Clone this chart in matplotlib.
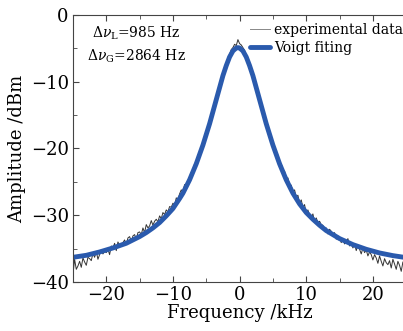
import numpy as np
import matplotlib
matplotlib.use('Agg')
import matplotlib.pyplot as plt

plt.rcParams['font.family'] = ['DejaVu Serif']
plt.rcParams['mathtext.fontset'] = 'dejavuserif'

# experimental spectrum (kHz, dBm)
frekData = np.linspace(-25, 25, 201)
ampData = [
    -38.9, -36.6, -38.1, -37.6, -36.9, -37.8, -36.4, -37.0, -37.5, -36.3,
    -36.5, -36.8, -35.7, -36.3, -35.4, -36.6, -35.9, -35.2, -35.8, -35.4,
    -35.6, -35.1, -35.9, -34.6, -34.9, -34.2, -35.3, -34.0, -34.5, -34.3,
    -34.1, -33.7, -34.4, -33.4, -33.2, -33.9, -33.1, -32.9, -33.6, -32.6,
    -32.5, -32.9, -31.9, -32.6, -31.4, -31.9, -31.6, -30.8, -31.5, -30.9,
    -30.6, -31.0, -30.1, -30.5, -29.6, -29.9, -29.2, -29.5, -28.7, -28.8,
    -28.2, -28.5, -27.4, -27.6, -26.8, -26.2, -26.5, -25.4, -25.6, -24.8,
    -24.3, -23.6, -23.2, -22.3, -22.0, -21.0, -20.6, -19.7, -19.2, -18.3,
    -17.6, -16.8, -16.0, -15.1, -14.2, -13.3, -12.4, -11.5, -10.6, -9.7,
    -8.8, -7.9, -7.3, -6.4, -5.9, -5.2, -4.9, -4.4, -4.6, -3.7,
    -4.3, -4.5, -4.9, -5.3, -6.1, -6.5, -7.4, -8.0, -8.9, -9.7,
    -10.7, -11.5, -12.5, -13.3, -14.4, -15.0, -16.2, -16.7, -17.8, -18.2,
    -19.3, -19.7, -20.7, -21.0, -22.0, -22.3, -23.2, -23.4, -24.5, -24.4,
    -25.4, -25.5, -26.6, -26.2, -27.3, -27.0, -28.2, -27.7, -28.8, -28.4,
    -29.8, -29.2, -30.0, -30.4, -29.8, -31.0, -30.4, -31.1, -30.9, -31.4,
    -31.5, -32.2, -31.9, -32.8, -32.1, -32.4, -33.0, -32.6, -33.6, -33.1,
    -33.4, -34.1, -33.6, -34.3, -34.0, -33.5, -34.6, -34.2, -34.9, -34.3,
    -35.3, -34.5, -35.1, -35.8, -34.9, -35.6, -35.2, -36.1, -35.5, -35.9,
    -36.7, -35.9, -36.4, -37.2, -36.1, -36.9, -37.6, -36.5, -37.1, -37.4,
    -36.8, -37.9, -36.6, -37.3, -38.1, -36.9, -37.5, -38.4, -37.0, -37.7,
    -37.2,
]

# Voigt fit curve
frekFit = [-25, -23, -21, -19, -17, -15, -14, -13, -12, -11, -10, -9, -8.5,
           -8, -7.5, -7, -6.5, -6, -5.5, -5, -4.5, -4, -3.5, -3, -2.5, -2,
           -1.5, -1, -0.5, -0.25, 0, 0.5, 1, 1.5, 2, 2.5, 3, 3.5, 4, 4.5, 5,
           5.5, 6, 6.5, 7, 7.5, 8, 8.5, 9, 10, 11, 12, 13, 14, 15, 17, 19,
           21, 23, 25]
ampFit = [-36.3, -36.0, -35.5, -34.9, -34.2, -33.2, -32.6, -31.9, -31.1,
          -30.1, -29.0, -27.5, -26.7, -25.7, -24.7, -23.5, -22.3, -20.9,
          -19.5, -17.9, -16.3, -14.5, -12.7, -10.9, -9.1, -7.6, -6.3, -5.4,
          -4.95, -4.9, -4.95, -5.4, -6.3, -7.6, -9.1, -10.9, -12.7, -14.5,
          -16.3, -17.9, -19.5, -20.9, -22.3, -23.5, -24.7, -25.7, -26.7,
          -27.5, -28.3, -29.6, -30.6, -31.5, -32.3, -32.9, -33.5, -34.4,
          -35.1, -35.65, -36.05, -36.35]

xTicks = [-20, -10, 0, 10, 20]
yTicks = [-40, -30, -20, -10, 0]

fig = plt.figure(figsize=(4.03, 3.31), dpi=100)
ax = fig.add_axes([0.181, 0.148, 0.827, 0.807])

ax.plot(frekData, ampData, color='#333333', lw=0.7, label='experimental data')
ax.plot(frekFit, ampFit, color='#2a5aad', lw=3.5, label='Voigt fiting',
        solid_capstyle='round')

ax.set_xlim(-25, 25)
ax.set_ylim(-40, 0)
ax.set_xticks(xTicks)
ax.set_yticks(yTicks)
ax.set_xticks([-15, -5, 5, 15], minor=True)
ax.set_yticks([-35, -25, -15, -5], minor=True)
ax.set_yticklabels(['\u221240', '\u221230', '\u221220', '\u221210', '0'])
ax.tick_params(which='both', direction='in', labelsize=13, color='#444444',
               top=True, right=False, pad=3)
ax.tick_params(which='major', length=4)
ax.tick_params(which='minor', length=3)
for s in ax.spines.values():
    s.set_color('#444444')

ax.set_xlabel('Frequency /kHz', fontsize=13, labelpad=0)
ax.set_ylabel('Amplitude /dBm', fontsize=13, labelpad=3)

ax.text(0.19, 0.93, r'$\Delta\nu_{\rm L}$=985 Hz', transform=ax.transAxes,
        fontsize=10, ha='center', va='center')
ax.text(0.19, 0.845, r'$\Delta\nu_{\rm G}$=2864 Hz', transform=ax.transAxes,
        fontsize=10, ha='center', va='center')

leg = ax.legend(loc='upper right', bbox_to_anchor=(1.015, 1.0), frameon=False,
                fontsize=10, handlelength=1.4, handletextpad=0.3,
                borderaxespad=0.2, labelspacing=0.25)
leg.get_lines()[0].set_color('#888888')

fig.savefig('out.png', dpi=100)
